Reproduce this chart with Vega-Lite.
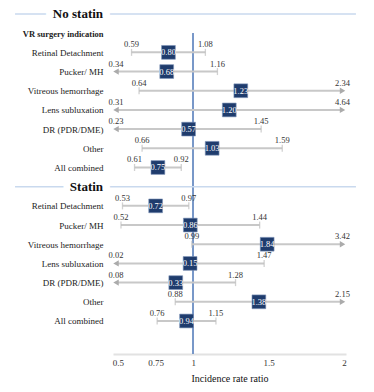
{
  "$schema": "https://vega.github.io/schema/vega-lite/v6.json",
  "width": 233,
  "height": 340,
  "autosize": {"type": "none"},
  "padding": {"left": 113, "top": 14, "right": 28, "bottom": 38},
  "config": {"font": "'Liberation Serif', 'DejaVu Serif', serif", "view": {"stroke": null}},
  "datasets": {
    "rows": [
      {"row": "NS|Retinal Detachment", "est": 0.80, "lo": 0.59, "hi": 1.08},
      {"row": "NS|Pucker/ MH", "est": 0.68, "lo": 0.34, "hi": 1.16},
      {"row": "NS|Vitreous hemorrhage", "est": 1.23, "lo": 0.64, "hi": 2.34},
      {"row": "NS|Lens subluxation", "est": 1.20, "lo": 0.31, "hi": 4.64},
      {"row": "NS|DR (PDR/DME)", "est": 0.57, "lo": 0.23, "hi": 1.45},
      {"row": "NS|Other", "est": 1.03, "lo": 0.66, "hi": 1.59},
      {"row": "NS|All combined", "est": 0.75, "lo": 0.61, "hi": 0.92},
      {"row": "S|Retinal Detachment", "est": 0.72, "lo": 0.53, "hi": 0.97},
      {"row": "S|Pucker/ MH", "est": 0.86, "lo": 0.52, "hi": 1.44},
      {"row": "S|Vitreous hemorrhage", "est": 1.84, "lo": 0.99, "hi": 3.42},
      {"row": "S|Lens subluxation", "est": 0.15, "lo": 0.02, "hi": 1.47},
      {"row": "S|DR (PDR/DME)", "est": 0.33, "lo": 0.08, "hi": 1.28},
      {"row": "S|Other", "est": 1.38, "lo": 0.88, "hi": 2.15},
      {"row": "S|All combined", "est": 0.94, "lo": 0.76, "hi": 1.15}
    ],
    "headers": [
      {"row": "h|No statin", "label": "No statin"},
      {"row": "h|Statin", "label": "Statin"}
    ]
  },
  "data": {"name": "rows"},
  "transform": [
    {"calculate": "max(datum.lo, 0.487)", "as": "lo_d"},
    {"calculate": "min(datum.hi, 1.99)", "as": "hi_d"},
    {"calculate": "(datum.lo_d + datum.hi_d) / 2", "as": "mid"}
  ],
  "encoding": {
    "y": {
      "field": "row",
      "type": "nominal",
      "scale": {
        "type": "point",
        "padding": 0.86,
        "align": 0,
        "domain": [
          "h|No statin", "vr|VR surgery indication",
          "NS|Retinal Detachment", "NS|Pucker/ MH", "NS|Vitreous hemorrhage", "NS|Lens subluxation", "NS|DR (PDR/DME)", "NS|Other", "NS|All combined",
          "h|Statin",
          "S|Retinal Detachment", "S|Pucker/ MH", "S|Vitreous hemorrhage", "S|Lens subluxation", "S|DR (PDR/DME)", "S|Other", "S|All combined"
        ]
      },
      "axis": {
        "title": null,
        "ticks": false,
        "tickSize": 0,
        "domain": false,
        "grid": false,
        "labelPadding": 10,
        "labelFontSize": {"condition": {"test": "indexof(datum.value, 'vr|') == 0", "value": 8.5}, "value": 9},
        "labelColor": "#222222",
        "labelFontWeight": {"condition": {"test": "indexof(datum.value, 'vr|') == 0", "value": "bold"}, "value": "normal"},
        "labelExpr": "indexof(datum.value, 'h|') == 0 ? '' : split(datum.value, '|')[1]"
      }
    }
  },
  "layer": [
    {
      "mark": {"type": "rule", "color": "#7a98c8", "strokeWidth": 1.2},
      "encoding": {
        "x": {"datum": 1, "type": "quantitative", "scale": {"domain": [0.467, 2.013], "nice": false, "zero": false},
          "axis": {"values": [0.5, 0.75, 1, 1.5, 2], "format": "~g", "ticks": false, "grid": false, "domainColor": "#e2e2e2", "domainWidth": 2, "labelFontSize": 9, "labelColor": "#333333", "labelPadding": 4, "labelFlush": false, "labelOverlap": false, "title": "Incidence rate ratio", "titleFontSize": 10, "titleFontWeight": "normal", "titleColor": "#111111", "titlePadding": 6}},
        "y": {"datum": "vr|VR surgery indication"},
        "y2": {"value": "height"}
      }
    },
    {
      "mark": {"type": "rule", "color": "#c8c8c8", "strokeWidth": 2},
      "encoding": {
        "x": {"field": "lo_d", "type": "quantitative"},
        "x2": {"field": "hi_d"}
      }
    },
    {
      "transform": [{"filter": "datum.lo >= 0.5"}],
      "mark": {"type": "tick", "orient": "vertical", "color": "#bdbdbd", "size": 7, "thickness": 1.3},
      "encoding": {"x": {"field": "lo", "type": "quantitative"}}
    },
    {
      "transform": [{"filter": "datum.hi <= 2"}],
      "mark": {"type": "tick", "orient": "vertical", "color": "#bdbdbd", "size": 7, "thickness": 1.3},
      "encoding": {"x": {"field": "hi", "type": "quantitative"}}
    },
    {
      "transform": [{"filter": "datum.lo < 0.5"}],
      "mark": {"type": "point", "shape": "triangle-left", "filled": true, "color": "#ababab", "opacity": 1, "size": 40},
      "encoding": {"x": {"field": "lo_d", "type": "quantitative"}}
    },
    {
      "transform": [{"filter": "datum.hi > 2"}],
      "mark": {"type": "point", "shape": "triangle-right", "filled": true, "color": "#ababab", "opacity": 1, "size": 40},
      "encoding": {"x": {"field": "hi_d", "type": "quantitative"}}
    },
    {
      "mark": {"type": "text", "fontSize": 8.5, "color": "#333333", "dy": -5, "baseline": "alphabetic"},
      "encoding": {"x": {"field": "lo_d", "type": "quantitative"}, "text": {"field": "lo", "format": ".2f"}}
    },
    {
      "mark": {"type": "text", "fontSize": 8.5, "color": "#333333", "dy": -5, "baseline": "alphabetic"},
      "encoding": {"x": {"field": "hi_d", "type": "quantitative"}, "text": {"field": "hi", "format": ".2f"}}
    },
    {
      "mark": {"type": "square", "filled": true, "color": "#1f3c6d", "opacity": 1, "size": 190, "stroke": "#7d93b8", "strokeWidth": 0.6},
      "encoding": {"x": {"field": "mid", "type": "quantitative"}}
    },
    {
      "mark": {"type": "text", "fontSize": 8.5, "color": "#ffffff", "baseline": "middle"},
      "encoding": {"x": {"field": "mid", "type": "quantitative"}, "text": {"field": "est", "format": ".2f"}}
    },
    {
      "data": {"name": "headers"},
      "mark": {"type": "rule", "color": "#c9d9ee", "strokeWidth": 1.5},
      "encoding": {"x": {"datum": -0.183}, "x2": {"datum": 2.079}}
    },
    {
      "data": {"name": "headers"},
      "mark": {"type": "text", "align": "right", "baseline": "middle", "fontSize": 13, "fontWeight": "bold", "color": "#ffffff", "stroke": "#ffffff", "strokeWidth": 14},
      "encoding": {"x": {"datum": 0.401}, "text": {"field": "label"}}
    },
    {
      "data": {"name": "headers"},
      "mark": {"type": "text", "align": "right", "baseline": "middle", "fontSize": 13, "fontWeight": "bold", "color": "#111111"},
      "encoding": {"x": {"datum": 0.401}, "text": {"field": "label"}}
    }
  ]
}
